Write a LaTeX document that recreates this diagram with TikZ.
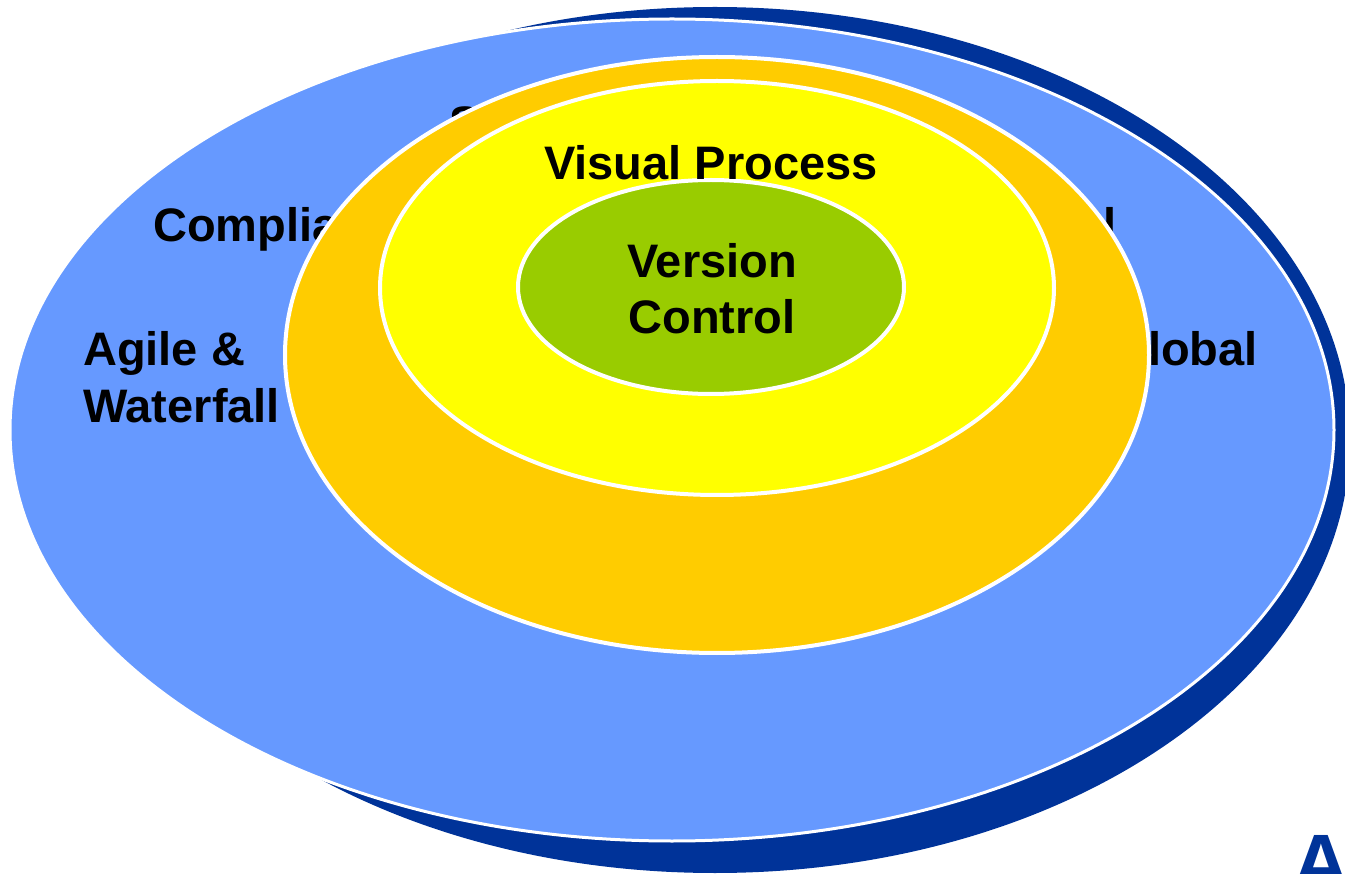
\documentclass[tikz,border=0pt]{standalone}
\usepackage{fontspec}
\setmainfont{Liberation Sans}
\definecolor{navy}{HTML}{003399}
\definecolor{skyblue}{HTML}{6699FF}
\definecolor{gold}{HTML}{FFCC00}
\definecolor{lemon}{HTML}{FFFF00}
\definecolor{lime}{HTML}{99CC00}
\begin{document}
\begin{tikzpicture}[x=1pt,y=-1pt,
  lab/.style={font=\fontsize{47}{56}\selectfont\bfseries, inner sep=0pt, text=black},
  ring/.style={draw=white, line width=4pt}]
\useasboundingbox (0,0) rectangle (1345,874);
% shadow
\fill[navy] (715,440) ellipse [x radius=635, y radius=433];
% outer blue
\path[fill=skyblue, draw=white, line width=3pt] (672,430) ellipse [x radius=662, y radius=411];
% outer labels (partly hidden)
\node[lab, anchor=base west] (comp) at (153,242) {Complia};
\node[lab, anchor=base west] (s) at (449,140) {S};
\node[lab, anchor=base west] (el) at (1103,242) {l};
\node[lab, anchor=base east] (glob) at (1258,366) {lobal};
\node[lab, anchor=base west] (agile) at (83,366) {Agile \&};
\node[lab, anchor=base west] (water) at (83,423) {Waterfall};
% rings
\path[ring, fill=gold] (717,355) ellipse [x radius=432, y radius=298];
\path[ring, fill=lemon] (717,288) ellipse [x radius=337, y radius=207];
\path[ring, fill=lime] (711,287) ellipse [x radius=193, y radius=107];
% inner labels
\node[lab, anchor=base] (vp) at (711,180) {Visual Process};
\node[lab, anchor=base] (ver) at (712,278) {Version};
\node[lab, anchor=base] (con) at (712,334) {Control};
% cropped letter bottom right
\node[font=\fontsize{80}{80}\selectfont\bfseries, text=navy, inner sep=0pt, anchor=north] (bigA) at (1321,835) {A};
\end{tikzpicture}
\end{document}
